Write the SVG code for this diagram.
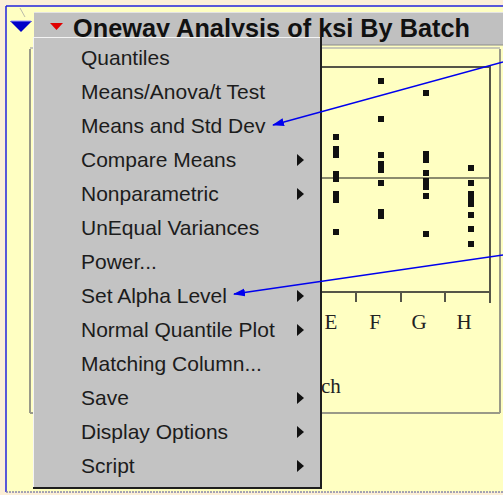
<svg xmlns="http://www.w3.org/2000/svg" width="503" height="495" viewBox="0 0 503 495">
<defs>
<style>
.item{font-family:"Liberation Sans",Arial,sans-serif;font-size:21px;fill:#1c1c1c}
.sub{fill:#111}
.dot{fill:#111}
.axl{font-family:"Liberation Serif","Times New Roman",serif;font-size:21px;fill:#222}
.frm{stroke:#555548;stroke-width:2;fill:none}
.conn{stroke:#0000ee;stroke-width:1.4;fill:none}
</style>
<marker id="ah" markerWidth="12" markerHeight="10" refX="11" refY="5" orient="auto" markerUnits="userSpaceOnUse"><path d="M0,1 L12,5 L0,9 z" fill="#0000ee"/></marker>
</defs>

<g id="background">
<rect width="503" height="495" fill="#fcefd8"/>
<rect x="6" y="6" width="497" height="486" fill="#ffffc2"/>
<line x1="6" y1="6" x2="503" y2="6" stroke="#2222dd" stroke-width="1.5"/>
<line x1="6" y1="6" x2="6" y2="492" stroke="#2222dd" stroke-width="1.5"/>
<line x1="6" y1="492" x2="503" y2="492" stroke="#8888aa" stroke-width="1.5" stroke-dasharray="2 1"/>
<line x1="20" y1="8" x2="25" y2="17" stroke="#bbbbaa" stroke-width="1"/>
</g>

<g id="header">
<rect x="34" y="12" width="469" height="33" fill="#c0c0c0"/>
<line x1="34" y1="12.5" x2="503" y2="12.5" stroke="#e4e4e4" stroke-width="1"/>
<line x1="34" y1="45" x2="503" y2="45" stroke="#8a8a8a" stroke-width="1"/>
<polygon points="10,21 32,21 21,32" fill="#0000c8"/>
<line x1="11" y1="21" x2="31" y2="21" stroke="#9999ff" stroke-width="1"/>
<polygon points="50,23 63,23 56.5,30" fill="#e00000"/>
<text x="73" y="37" font-family="'Liberation Sans',Arial,sans-serif" font-size="26" font-weight="bold" fill="#111" textLength="397" lengthAdjust="spacingAndGlyphs">Oneway Analysis of ksi By Batch</text>
</g>

<g id="plot">
<line x1="30" y1="48" x2="500" y2="48" stroke="#c8c8b4" stroke-width="2"/>
<line x1="30" y1="49" x2="30" y2="413" stroke="#9a9a88" stroke-width="2"/>
<line x1="500" y1="49" x2="500" y2="413" stroke="#9a9a88" stroke-width="2"/>
<line x1="30" y1="413" x2="500" y2="413" stroke="#9a9a88" stroke-width="2"/>
<rect class="frm" x="320" y="67" width="170" height="225"/>
<line x1="320" y1="178" x2="490" y2="178" stroke="#666650" stroke-width="1.5"/>
<line class="frm" x1="356" y1="292" x2="356" y2="302"/>
<line class="frm" x1="401" y1="292" x2="401" y2="302"/>
<line class="frm" x1="445" y1="292" x2="445" y2="302"/>
<line class="frm" x1="490" y1="292" x2="490" y2="303"/>
<text class="axl" x="331" y="329" text-anchor="middle">E</text>
<text class="axl" x="375" y="329" text-anchor="middle">F</text>
<text class="axl" x="419" y="329" text-anchor="middle">G</text>
<text class="axl" x="464" y="329" text-anchor="middle">H</text>
<text class="axl" x="321" y="393">ch</text>
<g id="dots">
<rect class="dot" x="333" y="134" width="6" height="6"/>
<rect class="dot" x="333" y="146" width="6" height="6"/>
<rect class="dot" x="333" y="152" width="6" height="6"/>
<rect class="dot" x="333" y="171" width="6" height="6"/>
<rect class="dot" x="333" y="176" width="6" height="6"/>
<rect class="dot" x="333" y="191" width="6" height="6"/>
<rect class="dot" x="333" y="197" width="6" height="6"/>
<rect class="dot" x="333" y="229" width="6" height="6"/>
<rect class="dot" x="378" y="78" width="6" height="6"/>
<rect class="dot" x="378" y="116" width="6" height="6"/>
<rect class="dot" x="378" y="152" width="6" height="6"/>
<rect class="dot" x="378" y="161" width="6" height="6"/>
<rect class="dot" x="378" y="167" width="6" height="6"/>
<rect class="dot" x="378" y="180" width="6" height="6"/>
<rect class="dot" x="378" y="209" width="6" height="6"/>
<rect class="dot" x="378" y="213" width="6" height="6"/>
<rect class="dot" x="423" y="90" width="6" height="6"/>
<rect class="dot" x="423" y="151" width="6" height="6"/>
<rect class="dot" x="423" y="157" width="6" height="6"/>
<rect class="dot" x="423" y="170" width="6" height="6"/>
<rect class="dot" x="423" y="178" width="6" height="6"/>
<rect class="dot" x="423" y="184" width="6" height="6"/>
<rect class="dot" x="423" y="193" width="6" height="6"/>
<rect class="dot" x="423" y="231" width="6" height="6"/>
<rect class="dot" x="468" y="165" width="6" height="6"/>
<rect class="dot" x="468" y="180" width="6" height="6"/>
<rect class="dot" x="468" y="191" width="6" height="6"/>
<rect class="dot" x="468" y="196" width="6" height="6"/>
<rect class="dot" x="468" y="201" width="6" height="6"/>
<rect class="dot" x="468" y="212" width="6" height="6"/>
<rect class="dot" x="468" y="226" width="6" height="6"/>
<rect class="dot" x="468" y="241" width="6" height="6"/>
</g>
</g>

<g id="menu">
<rect x="33" y="37" width="289" height="452" fill="#c3c3c3"/>
<line x1="33.5" y1="37" x2="33.5" y2="488" stroke="#f4f4f4" stroke-width="1"/>
<line x1="33" y1="37.5" x2="321" y2="37.5" stroke="#f4f4f4" stroke-width="1"/>
<line x1="321" y1="37" x2="321" y2="489" stroke="#1e1e1e" stroke-width="2"/>
<line x1="33" y1="488" x2="322" y2="488" stroke="#1e1e1e" stroke-width="2"/>
<g id="item-quantiles"><text class="item" x="81" y="65">Quantiles</text></g>
<g id="item-means-anova"><text class="item" x="81" y="99">Means/Anova/t Test</text></g>
<g id="item-means-std"><text class="item" x="81" y="133">Means and Std Dev</text></g>
<g id="item-compare"><text class="item" x="81" y="167">Compare Means</text><polygon class="sub" points="297,154 297,166 304,160"/></g>
<g id="item-nonpar"><text class="item" x="81" y="201">Nonparametric</text><polygon class="sub" points="297,188 297,200 304,194"/></g>
<g id="item-unequal"><text class="item" x="81" y="235">UnEqual Variances</text></g>
<g id="item-power"><text class="item" x="81" y="269">Power...</text></g>
<g id="item-alpha"><text class="item" x="81" y="303">Set Alpha Level</text><polygon class="sub" points="297,290 297,302 304,296"/></g>
<g id="item-nqp"><text class="item" x="81" y="337">Normal Quantile Plot</text><polygon class="sub" points="297,324 297,336 304,330"/></g>
<g id="item-matching"><text class="item" x="81" y="371">Matching Column...</text></g>
<g id="item-save"><text class="item" x="81" y="405">Save</text><polygon class="sub" points="297,392 297,404 304,398"/></g>
<g id="item-display"><text class="item" x="81" y="439">Display Options</text><polygon class="sub" points="297,426 297,438 304,432"/></g>
<g id="item-script"><text class="item" x="81" y="473">Script</text><polygon class="sub" points="297,460 297,472 304,466"/></g>
</g>

<g id="connectors">
<line class="conn" x1="503" y1="62" x2="273" y2="125" marker-end="url(#ah)"/>
<line class="conn" x1="503" y1="255" x2="234" y2="294" marker-end="url(#ah)"/>
</g>
</svg>
